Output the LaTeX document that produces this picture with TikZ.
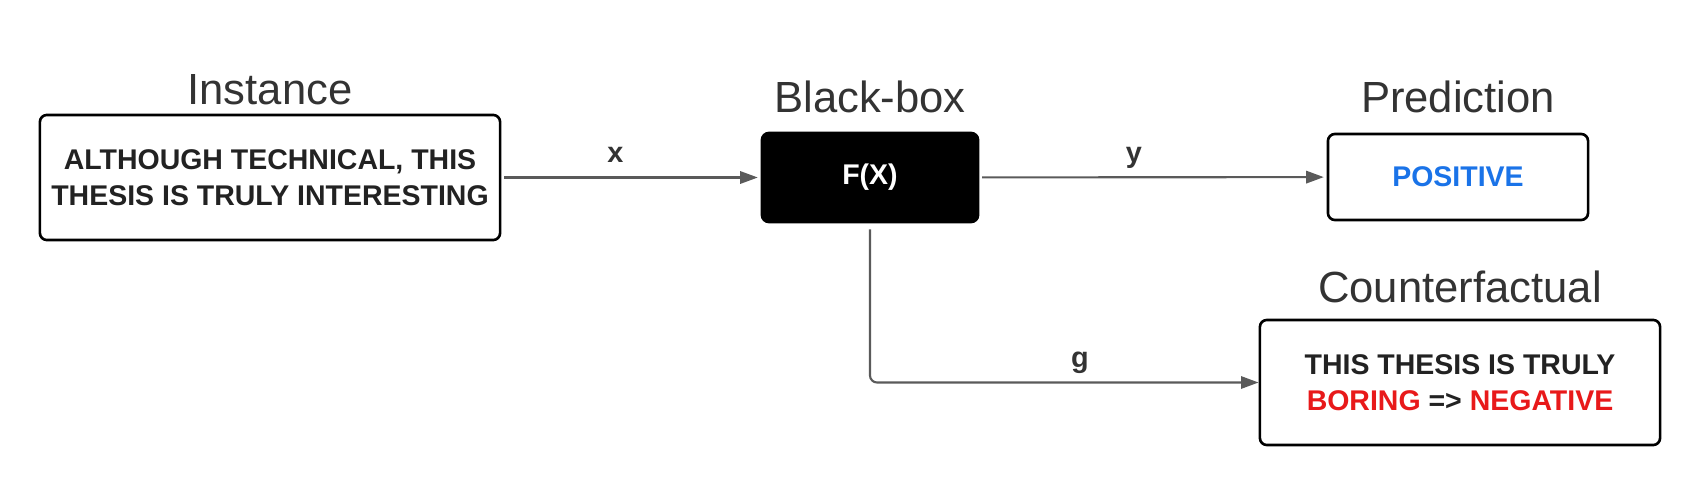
\documentclass[tikz,border=0pt]{standalone}
\usepackage{fontspec}
\setmainfont{Liberation Sans}
\usepackage{xcolor}
\usetikzlibrary{positioning,arrows.meta}
\definecolor{titlegray}{HTML}{333333}
\definecolor{textdark}{HTML}{222222}
\definecolor{linegray}{HTML}{5A5A5A}
\definecolor{posblue}{HTML}{1A73E8}
\definecolor{negred}{HTML}{E8191A}
\tikzset{
box/.style={
draw,
line width=0.75pt,
rounded corners=2pt,
align=center,
fill=white,
text=textdark,
inner sep=0pt,
font=\fontsize{8.1}{10.3}\selectfont\bfseries
},
blackbox/.style={
box,
fill=black,
text=white
},
title/.style={
inner sep=0pt,
text=titlegray,
font=\fontsize{12.4}{14}\selectfont
},
lbl/.style={
inner sep=0pt,
anchor=base,
yshift=4.3pt,
text=titlegray,
font=\fontsize{8.2}{10}\selectfont\bfseries
},
arrow/.style={
-{Triangle[length=5pt,width=3.5pt]},
line width=0.6pt,
draw=linegray
}
}

\begin{document}
\begin{tikzpicture}[x=0.01cm,y=-0.01cm]
\useasboundingbox (0,0) rectangle (1700,485);

% boxes
\node[box,minimum width=4.6cm,minimum height=1.25cm](inst) at (270,177.5)
{ALTHOUGH TECHNICAL, THIS\\THESIS IS TRULY INTERESTING};
\node[blackbox,minimum width=2.16cm,minimum height=0.89cm](bbox) at (870,177.5){F(X)};
\node[box,minimum width=2.6cm,minimum height=0.86cm](pred) at (1458,177)
{\textcolor{posblue}{POSITIVE}};
\node[box,minimum width=4cm,minimum height=1.25cm](cf) at (1460,382.5)
{THIS THESIS IS TRULY\\\textcolor{negred}{BORING} => \textcolor{negred}{NEGATIVE}};

% titles
\node[title,above=0.08cm of inst](tinst){Instance};
\node[title,above=0.18cm of bbox](tbbox){Black-box};
\node[title,above=0.19cm of pred](tpred){Prediction};
\node[title,above=0.15cm of cf](tcf){Counterfactual};

% connectors
\foreach \a/\b/\l/\p in {inst/bbox/x/.44,bbox/pred/y/.445}
\draw[arrow,shorten <=0.8pt,shorten >=0.8pt](\a)--(\b)node[lbl,pos=\p]{\l};
\draw[arrow,rounded corners=2pt]([yshift=-0.06cm]bbox.south)|-(cf.west)
node[lbl,pos=.77]{g};
\end{tikzpicture}
\end{document}
